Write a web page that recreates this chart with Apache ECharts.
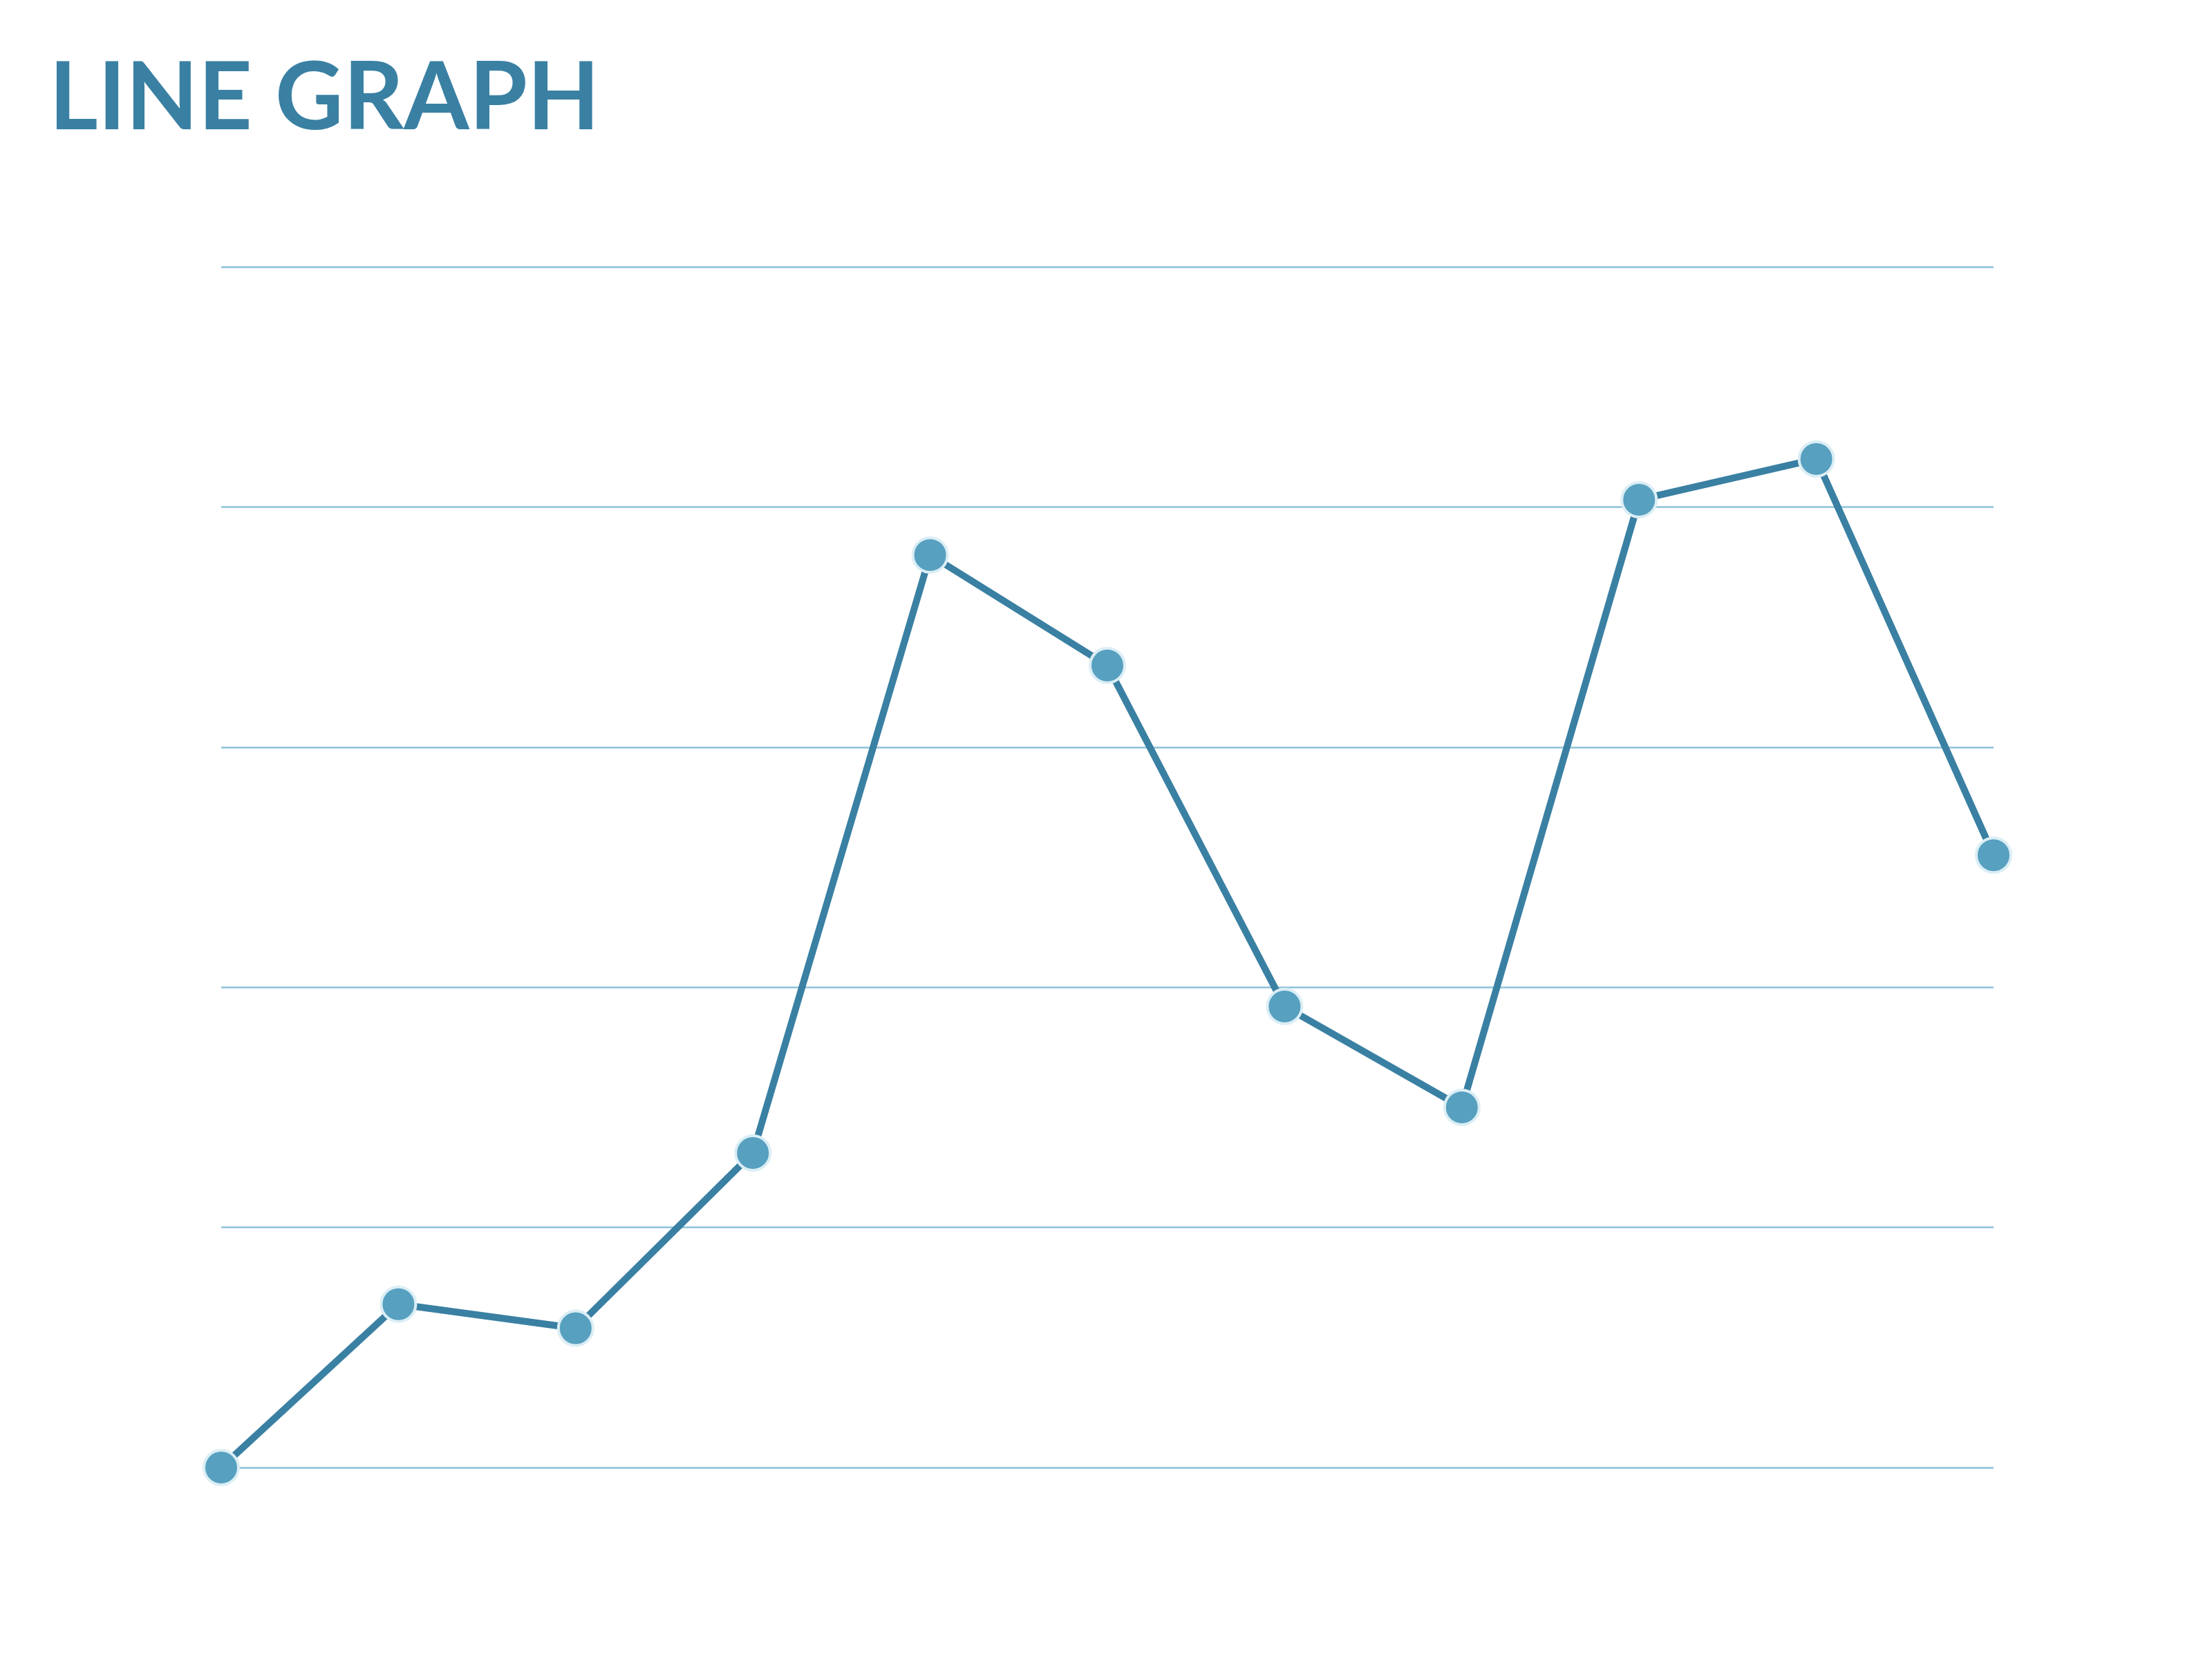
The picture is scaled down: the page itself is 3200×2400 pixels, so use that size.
<!DOCTYPE html>
<html>
<head>
<meta charset="utf-8">
<script src="https://cdn.jsdelivr.net/npm/echarts@6/dist/echarts.min.js"></script>
<style>
  html, body { margin: 0; padding: 0; background: #ffffff; }
  #chart { width: 3200px; height: 2400px; }
</style>
</head>
<body>
<div id="chart"></div>
<script>
const categories = ["1", "2", "3", "4", "5", "6", "7", "8", "9", "10", "11"];
const values = [0, 6.8, 5.8, 13.1, 38, 33.4, 19.2, 15, 40.3, 42, 25.5];
const yTicks = { min: 0, max: 50, interval: 10 };

const chart = echarts.init(document.getElementById("chart"));

chart.setOption({
  backgroundColor: "#ffffff",
  animation: false,
  title: {
    text: "LINE GRAPH",
    left: 66,
    top: 70,
    textStyle: {
      fontFamily: "Lato",
      fontWeight: "bold",
      fontSize: 136,
      color: "#3a80a3",
    },
  },
  grid: {
    left: 320,
    right: 316,
    top: 386,
    bottom: 277,
  },
  xAxis: {
    type: "category",
    data: categories,
    boundaryGap: false,
    axisLine: { show: false },
    axisTick: { show: false },
    axisLabel: { show: false },
    splitLine: { show: false },
  },
  yAxis: {
    type: "value",
    min: yTicks.min,
    max: yTicks.max,
    interval: yTicks.interval,
    axisLine: { show: false },
    axisTick: { show: false },
    axisLabel: { show: false },
    splitLine: {
      lineStyle: { color: "#8cc2da", width: 2.5 },
    },
  },
  series: [
    {
      type: "line",
      data: values,
      symbol: "circle",
      symbolSize: 50,
      lineStyle: { color: "#3a80a3", width: 10 },
      itemStyle: {
        color: "#57a0c0",
        borderColor: "#dbeef5",
        borderWidth: 4,
      },
    },
  ],
});
</script>
</body>
</html>
